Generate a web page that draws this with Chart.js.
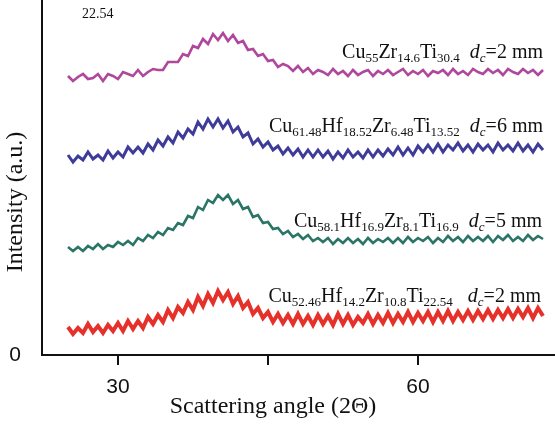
<!DOCTYPE html>
<html>
<head>
<meta charset="utf-8">
<script src="https://cdn.jsdelivr.net/npm/chart.js@4.4.1/dist/chart.umd.min.js"></script>
<style>
  html, body { margin: 0; padding: 0; background: #fff; }
  #wrap { width: 555px; height: 426px; }
</style>
</head>
<body>
<div id="wrap"><canvas id="xrd"></canvas></div>
<script>
// 2-theta positions (degrees)
const angles = [
  25, 25.5, 26, 26.5, 27, 27.5, 28, 28.5, 29, 29.5, 30, 30.5, 31, 31.5, 32, 32.5,
  33, 33.5, 34, 34.5, 35, 35.5, 36, 36.5, 37, 37.5, 38, 38.5, 39, 39.5, 40, 40.5,
  41, 41.5, 42, 42.5, 43, 43.5, 44, 44.5, 45, 45.5, 46, 46.5, 47, 47.5, 48, 48.5,
  49, 49.5, 50, 50.5, 51, 51.5, 52, 52.5, 53, 53.5, 54, 54.5, 55, 55.5, 56, 56.5,
  57, 57.5, 58, 58.5, 59, 59.5, 60, 60.5, 61, 61.5, 62, 62.5, 63, 63.5, 64, 64.5,
  65, 65.5, 66, 66.5, 67, 67.5, 68, 68.5, 69, 69.5, 70, 70.5, 71, 71.5, 72, 72.5
];

// intensities (a.u., curves stacked with offsets)
const cu55 = [
  279, 274, 278, 281, 276, 277, 281, 274, 281, 279, 276, 283, 281, 279, 285, 279,
  283, 286, 285, 285, 293, 293, 293, 301, 299, 309, 307, 316, 311, 321, 315, 322,
  314, 320, 312, 314, 305, 306, 299, 301, 294, 295, 288, 291, 289, 284, 289, 283,
  287, 281, 285, 283, 280, 286, 281, 284, 279, 285, 280, 283, 285, 279, 284, 281,
  285, 280, 283, 286, 280, 284, 281, 285, 279, 284, 282, 285, 280, 286, 281, 284,
  280, 286, 283, 281, 286, 282, 285, 280, 286, 283, 281, 286, 282, 285, 280, 285
];
const cu6148 = [
  200, 193, 199, 195, 203, 196, 200, 195, 204, 197, 203, 198, 208, 202, 208, 202,
  211, 205, 215, 209, 218, 212, 223, 217, 226, 221, 233, 226, 236, 228, 236, 227,
  234, 223, 228, 218, 222, 211, 216, 208, 213, 205, 209, 201, 207, 200, 206, 198,
  205, 198, 205, 198, 204, 196, 203, 197, 205, 198, 203, 197, 205, 198, 205, 199,
  206, 200, 208, 200, 207, 200, 209, 203, 210, 203, 211, 203, 210, 205, 212, 204,
  210, 203, 211, 205, 210, 203, 212, 205, 210, 204, 212, 204, 210, 203, 211, 205
];
const cu581 = [
  108, 104, 108, 104, 109, 106, 111, 106, 110, 108, 113, 110, 114, 110, 117, 114,
  120, 117, 123, 120, 127, 125, 132, 130, 139, 137, 148, 145, 155, 152, 160, 155,
  160, 151, 155, 146, 148, 138, 140, 132, 133, 126, 127, 121, 124, 118, 121, 116,
  120, 114, 117, 113, 117, 111, 116, 112, 117, 112, 116, 111, 117, 112, 116, 113,
  117, 112, 117, 112, 118, 113, 117, 114, 118, 112, 117, 113, 119, 114, 118, 113,
  119, 114, 118, 114, 119, 113, 119, 115, 120, 114, 118, 114, 120, 115, 119, 116
];
const cu5246 = [
  28, 21, 27, 22, 31, 23, 29, 22, 30, 24, 32, 24, 34, 26, 34, 27,
  38, 31, 40, 33, 45, 37, 48, 42, 53, 45, 58, 49, 61, 52, 64, 55,
  63, 51, 59, 47, 53, 41, 47, 37, 43, 33, 41, 32, 40, 31, 41, 31,
  39, 30, 40, 31, 39, 30, 41, 31, 40, 30, 38, 32, 41, 31, 40, 32,
  42, 32, 41, 33, 43, 33, 42, 34, 43, 33, 43, 34, 44, 34, 43, 35,
  44, 35, 44, 36, 45, 36, 45, 37, 46, 37, 46, 38, 47, 37, 47, 39
];

const xTicks = [30, 45, 60];
const xTickLabels = ["30", "", "60"];
const yTicks = [0];

// curve labels: [text, style]  n = normal, s = subscript, i = italic, is = italic subscript
const label55 = [["Cu","n"],["55","s"],["Zr","n"],["14.6","s"],["Ti","n"],["30.4","s"],["  ","n"],["d","i"],["c","is"],["=2 mm","n"]];
const label6148 = [["Cu","n"],["61.48","s"],["Hf","n"],["18.52","s"],["Zr","n"],["6.48","s"],["Ti","n"],["13.52","s"],["  ","n"],["d","i"],["c","is"],["=6 mm","n"]];
const label581 = [["Cu","n"],["58.1","s"],["Hf","n"],["16.9","s"],["Zr","n"],["8.1","s"],["Ti","n"],["16.9","s"],["  ","n"],["d","i"],["c","is"],["=5 mm","n"]];
const label5246 = [["Cu","n"],["52.46","s"],["Hf","n"],["14.2","s"],["Zr","n"],["10.8","s"],["Ti","n"],["22.54","s"],["   ","n"],["d","i"],["c","is"],["=2 mm","n"]];

const serif = "'Liberation Serif', 'Times New Roman', serif";
const fonts = {
  n: "20px " + serif,
  s: "13px " + serif,
  i: "italic 20px " + serif,
  is: "italic 13px " + serif
};

function toPoints(ys) {
  return ys.map((y, i) => ({ x: angles[i], y: y }));
}

// alloy names next to each curve + the axis titles (placed as in the figure)
const curveLabels = {
  id: "curveLabels",
  afterDraw(chart) {
    const ctx = chart.ctx;
    const items = [
      { parts: label55, right: 543, base: 58 },
      { parts: label6148, right: 543, base: 132 },
      { parts: label581, right: 542, base: 227 },
      { parts: label5246, right: 541, base: 302 }
    ];
    ctx.save();
    ctx.fillStyle = "#111";
    ctx.textBaseline = "alphabetic";
    ctx.textAlign = "left";
    items.forEach(it => {
      let w = 0;
      it.parts.forEach(p => { ctx.font = fonts[p[1]]; w += ctx.measureText(p[0]).width; });
      let x = it.right - w;
      it.parts.forEach(p => {
        ctx.font = fonts[p[1]];
        const dy = (p[1] === "s" || p[1] === "is") ? 4 : 0;
        ctx.fillText(p[0], x, it.base + dy);
        x += ctx.measureText(p[0]).width;
      });
    });
    // stray label at the top left of the original figure
    ctx.font = "14px " + serif;
    ctx.fillText("22.54", 82, 18);

    // axis titles
    ctx.font = "24px " + serif;
    ctx.textAlign = "center";
    ctx.textBaseline = "middle";
    ctx.fillText("Scattering angle (2Θ)", 273, 407);
    ctx.translate(16, 202);
    ctx.rotate(-Math.PI / 2);
    ctx.fillText("Intensity (a.u.)", 0, 0);
    ctx.restore();
  }
};

const lineSet = (label, ys, color, width) => ({
  label: label,
  data: toPoints(ys),
  borderColor: color,
  backgroundColor: color,
  borderWidth: width,
  pointRadius: 0,
  tension: 0,
  fill: false
});

new Chart(document.getElementById("xrd"), {
  type: "line",
  data: {
    datasets: [
      lineSet("Cu55Zr14.6Ti30.4", cu55, "#b0479c", 2.6),
      lineSet("Cu61.48Hf18.52Zr6.48Ti13.52", cu6148, "#3e3c98", 3),
      lineSet("Cu58.1Hf16.9Zr8.1Ti16.9", cu581, "#2a7566", 2.6),
      lineSet("Cu52.46Hf14.2Zr10.8Ti22.54", cu5246, "#e6302a", 4)
    ]
  },
  options: {
    responsive: true,
    maintainAspectRatio: false,
    animation: false,
    layout: { padding: 0 },
    plugins: {
      legend: { display: false },
      tooltip: { enabled: false }
    },
    scales: {
      x: {
        type: "linear",
        min: 22.4,
        max: 73.7,
        afterFit(s) { s.height = 71; s.paddingLeft = 0; s.paddingRight = 0; },
        afterBuildTicks(s) { s.ticks = xTicks.map(v => ({ value: v })); },
        ticks: {
          color: "#111",
          padding: 10,
          font: { family: "'Liberation Sans', Arial, sans-serif", size: 21 },
          callback: (v) => xTickLabels[xTicks.indexOf(v)] ?? ""
        },
        grid: { drawOnChartArea: false, drawTicks: true, tickLength: 10, color: "#111", lineWidth: 2 },
        border: { color: "#111", width: 2 },
        title: { display: false }
      },
      y: {
        min: 0,
        max: 355,
        afterFit(s) { s.width = 42; s.paddingTop = 0; s.paddingBottom = 0; },
        afterBuildTicks(s) { s.ticks = yTicks.map(v => ({ value: v })); },
        ticks: {
          color: "#111",
          padding: 21,
          font: { family: "'Liberation Sans', Arial, sans-serif", size: 21 }
        },
        grid: { display: true, drawOnChartArea: false, drawTicks: false },
        border: { color: "#111", width: 2 },
        title: { display: false }
      }
    }
  },
  plugins: [curveLabels]
});
</script>
</body>
</html>
